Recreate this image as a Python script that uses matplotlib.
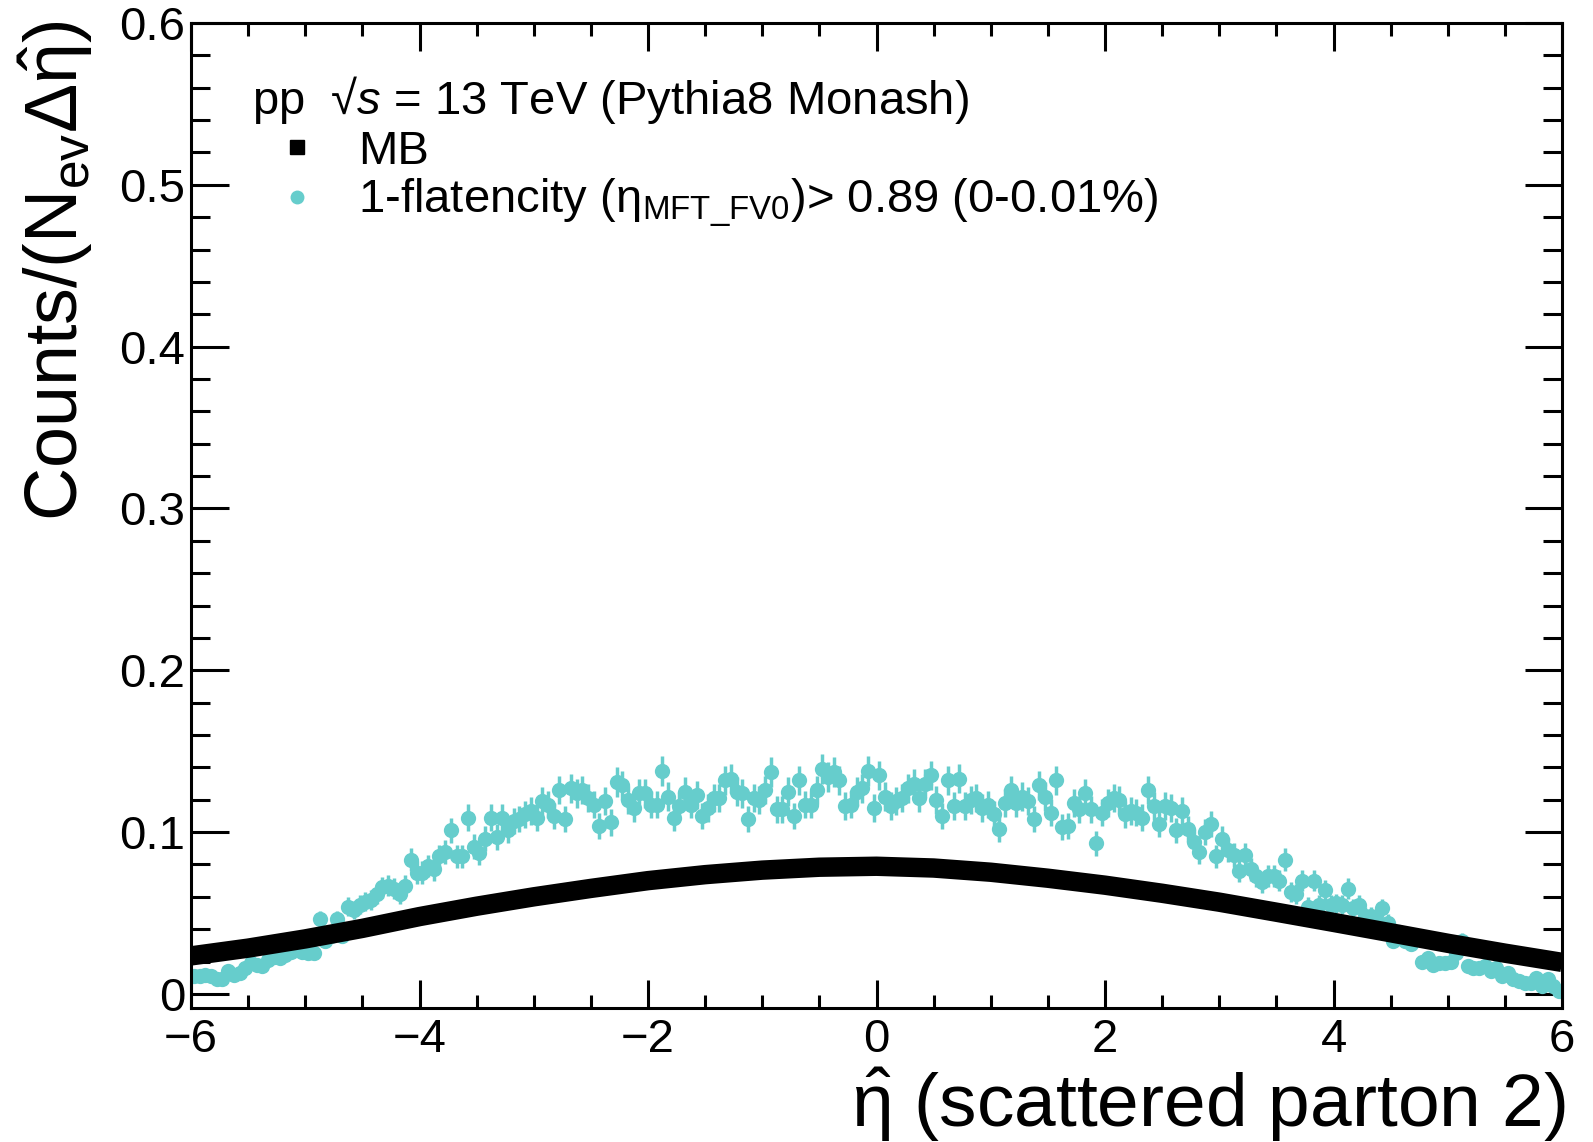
import numpy as np
import matplotlib
matplotlib.use("Agg")
import matplotlib.pyplot as plt
from matplotlib.ticker import MultipleLocator, FuncFormatter
from matplotlib.lines import Line2D

plt.rcParams['font.family'] = ['Liberation Sans', 'DejaVu Sans']
plt.rcParams['mathtext.fontset'] = 'custom'
plt.rcParams['mathtext.rm'] = 'Liberation Sans'
plt.rcParams['mathtext.it'] = 'Liberation Sans:italic'
plt.rcParams['mathtext.bf'] = 'Liberation Sans:bold'
plt.rcParams['mathtext.default'] = 'regular'

# MB curve, read every 0.5 in eta-hat
mb_eta = [-6.0, -5.5, -5.0, -4.5, -4.0, -3.5, -3.0, -2.5, -2.0, -1.5, -1.0, -0.5,
          0.0, 0.5, 1.0, 1.5, 2.0, 2.5, 3.0, 3.5, 4.0, 4.5, 5.0, 5.5, 6.0]
mb_val = [0.0235, 0.0283, 0.0340, 0.0405, 0.0478, 0.0542, 0.0600, 0.0652, 0.0700, 0.0737,
          0.0765, 0.0783, 0.0789, 0.0778, 0.0752, 0.0715, 0.0672, 0.0622, 0.0567, 0.0505,
          0.0442, 0.0378, 0.0313, 0.0252, 0.0195]

# 1-flatencity > 0.89 (0-0.01%), 240 bins of 0.05 from -6 to 6
flat_m6_m4 = [0.011, 0.011, 0.012, 0.011, 0.009, 0.009, 0.014, 0.012, 0.013, 0.016,
              0.019, 0.018, 0.017, 0.021, 0.023, 0.022, 0.024, 0.026, 0.027, 0.026,
              0.025, 0.025, 0.046, 0.033, 0.036, 0.046, 0.036, 0.054, 0.052, 0.055,
              0.057, 0.058, 0.062, 0.066, 0.067, 0.065, 0.062, 0.067, 0.083, 0.075]
flat_m4_m2 = [0.075, 0.079, 0.077, 0.085, 0.088, 0.101, 0.085, 0.085, 0.109, 0.091,
              0.087, 0.096, 0.109, 0.097, 0.109, 0.101, 0.107, 0.108, 0.111, 0.113,
              0.109, 0.119, 0.117, 0.110, 0.126, 0.108, 0.127, 0.124, 0.126, 0.121,
              0.117, 0.104, 0.119, 0.106, 0.131, 0.129, 0.120, 0.115, 0.124, 0.124]
flat_m2_0 = [0.117, 0.117, 0.138, 0.122, 0.109, 0.116, 0.125, 0.117, 0.123, 0.110,
             0.115, 0.121, 0.121, 0.132, 0.133, 0.125, 0.124, 0.108, 0.121, 0.120,
             0.126, 0.137, 0.114, 0.114, 0.125, 0.110, 0.132, 0.117, 0.117, 0.126,
             0.139, 0.134, 0.137, 0.132, 0.116, 0.117, 0.125, 0.127, 0.138, 0.115]
flat_0_2 = [0.135, 0.122, 0.116, 0.119, 0.121, 0.127, 0.130, 0.121, 0.130, 0.135,
            0.120, 0.110, 0.132, 0.116, 0.133, 0.116, 0.120, 0.121, 0.115, 0.117,
            0.111, 0.102, 0.118, 0.126, 0.118, 0.122, 0.119, 0.108, 0.129, 0.122,
            0.112, 0.132, 0.103, 0.104, 0.118, 0.114, 0.124, 0.114, 0.093, 0.112]
flat_2_4 = [0.118, 0.121, 0.120, 0.111, 0.113, 0.112, 0.109, 0.126, 0.116, 0.105,
            0.116, 0.115, 0.101, 0.113, 0.102, 0.094, 0.088, 0.100, 0.105, 0.085,
            0.096, 0.089, 0.086, 0.076, 0.086, 0.077, 0.073, 0.069, 0.073, 0.073,
            0.070, 0.083, 0.063, 0.062, 0.070, 0.054, 0.070, 0.055, 0.064, 0.055]
flat_4_6 = [0.056, 0.055, 0.065, 0.053, 0.055, 0.048, 0.048, 0.046, 0.053, 0.044,
            0.033, 0.038, 0.033, 0.031, 0.036, 0.020, 0.022, 0.018, 0.019, 0.019,
            0.020, 0.025, 0.033, 0.017, 0.016, 0.016, 0.017, 0.014, 0.016, 0.011,
            0.013, 0.009, 0.008, 0.007, 0.007, 0.010, 0.005, 0.009, 0.005, 0.002]

flat_val = np.array(flat_m6_m4 + flat_m4_m2 + flat_m2_0 + flat_0_2 + flat_2_4 + flat_4_6)
edges = np.linspace(-6, 6, len(flat_val) + 1)
flat_eta = 0.5 * (edges[:-1] + edges[1:])
# statistical errors (poisson-like)
flat_err = 0.025 * np.sqrt(flat_val)

cyan = '#66cdcc'

fig = plt.figure(figsize=(15.93, 11.42), dpi=100)
ax = fig.add_axes([191 / 1593, 1 - 1008 / 1142, 1371 / 1593, 985 / 1142])

ax.errorbar(flat_eta, flat_val, yerr=flat_err, fmt='o', color=cyan, ms=11, mew=0,
            elinewidth=2.5, capsize=0, zorder=2)
ax.plot(mb_eta, mb_val, color='black', lw=14, solid_capstyle='butt',
        solid_joinstyle='round', zorder=3)

ax.set_xlim(-6, 6)
ax.set_ylim(-0.0087, 0.6)

ax.xaxis.set_major_locator(MultipleLocator(2))
ax.xaxis.set_minor_locator(MultipleLocator(0.5))
ax.yaxis.set_major_locator(MultipleLocator(0.1))
ax.yaxis.set_minor_locator(MultipleLocator(0.02))
ax.yaxis.set_major_formatter(FuncFormatter(lambda v, p: '0' if abs(v) < 1e-9 else '%.1f' % v))
ax.xaxis.set_major_formatter(FuncFormatter(lambda v, p: ('\u2212%d' % abs(v)) if v < 0 else '%d' % v))

ax.tick_params(which='both', direction='in', top=True, right=True, width=2.2)
ax.tick_params(axis='x', which='major', length=20, labelsize=34, pad=7)
ax.tick_params(axis='x', which='minor', length=9.5)
ax.tick_params(axis='y', which='major', length=27, labelsize=34, pad=4)
ax.tick_params(axis='y', which='minor', length=13.5)
for s in ax.spines.values():
    s.set_linewidth(2.2)

# legend
ax.text(0.0445, 0.922, 'pp  \u221a$\\mathit{s}$ = 13 TeV (Pythia8 Monash)',
        transform=ax.transAxes, fontsize=34, ha='left', va='center')
handles = [Line2D([], [], ls='none', marker='s', color='black', ms=10),
           Line2D([], [], ls='none', marker='o', color=cyan, mew=0, ms=10)]
labels = ['MB', r'1-flatencity ($\eta_{MFT\_FV0}$)> 0.89 (0-0.01%)']
ax.legend(handles, labels, loc='upper left', bbox_to_anchor=(0.0496, 0.8914),
          frameon=False, fontsize=34, borderpad=0, borderaxespad=0,
          handlelength=1.6, handletextpad=0.49, labelspacing=0.05)

fig.text(56 / 1593, 1 - 20 / 1142, r'Counts/(N$_{ev}\Delta\hat{\eta}$)', rotation=90,
         ha='center', va='top', fontsize=53)
fig.text(1565 / 1593, 1 - 1127 / 1142, r'$\hat{\eta}$ (scattered parton 2)',
         ha='right', va='baseline', fontsize=54)

fig.savefig('out.png', dpi=100)
